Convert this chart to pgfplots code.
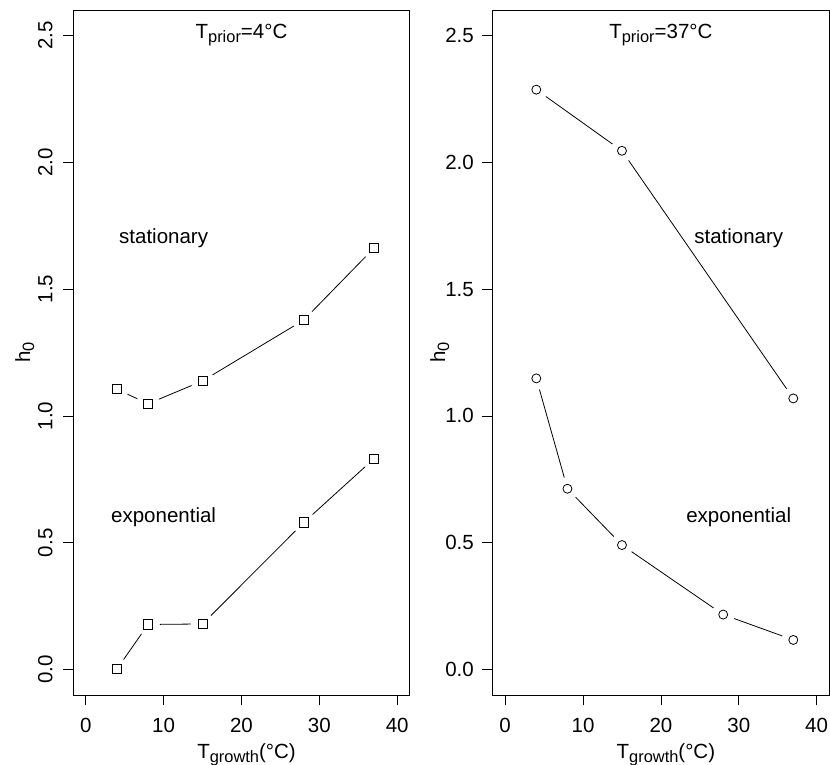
\documentclass[border=0pt]{standalone}
\usepackage{pgfplots}
\pgfplotsset{compat=1.18}
\usepackage{fontspec}
\setmainfont{Liberation Sans}
\newcommand\rf{\fontsize{20.5bp}{24bp}\selectfont}
\newcommand\sub[1]{\raisebox{-0.2em}{\fontsize{16.4bp}{18bp}\selectfont #1}}

\pgfplotstableread{
x y
4 1.105
8 1.048
15 1.138
28 1.378
37 1.661
}\leftstat
\pgfplotstableread{
x y
4 0.002
8 0.178
15 0.180
28 0.580
37 0.831
}\leftexp
\pgfplotstableread{
x y
4 2.286
15 2.045
37 1.069
}\rightstat
\pgfplotstableread{
x y
4 1.148
8 0.713
15 0.491
28 0.217
37 0.117
}\rightexp

\pgfplotsset{
  rpanel/.style={
    scale only axis, width=336.4bp, height=685bp,
    xmin=-1.6, xmax=41.6, ymin=-0.1, ymax=2.6,
    xtick={0,10,20,30,40}, xticklabels={0,10,20,30,40},
    ytick={0,0.5,1,1.5,2,2.5}, yticklabels={0.0,0.5,1.0,1.5,2.0,2.5},
    tick align=outside, xtick pos=bottom, ytick pos=left,
    major tick length=10.5bp,
    every tick/.style={black, line width=0.8bp},
    axis line style={line width=0.8bp},
    tick label style={font=\rf},
    xticklabel style={anchor=north, inner sep=0pt, yshift=-12.8bp},
    xlabel style={at={(axis description cs:0.5,0)}, anchor=base, yshift=-63.3bp, xshift=5bp, inner sep=0pt},
    clip=false,
  },
  halo/.style={only marks, mark=*, white, mark size=11.5bp, forget plot},
  ln/.style={black, line width=0.8bp, mark=none},
}

\begin{document}
\begin{tikzpicture}
\useasboundingbox (0,0) rectangle (830bp,765bp);
% left panel
\begin{axis}[rpanel, at={(73.3bp,70bp)}, anchor=south west,
  yticklabel style={xshift=-10.5bp, rotate=90, anchor=base, inner sep=0pt},
  xlabel={\rf T\sub{growth}(°C)},
  ylabel={\rf h\sub{0}},
  every axis y label/.style={at={(axis description cs:0,0.5)}, xshift=-43.3bp, rotate=90, anchor=base, inner sep=0pt},
]
\addplot[ln] table {\leftstat};
\addplot[ln] table {\leftexp};
\addplot[halo] table {\leftstat};
\addplot[halo] table {\leftexp};
\addplot[only marks, mark=square, mark size=4.6bp, black, mark options={line width=0.8bp}] table {\leftstat};
\addplot[only marks, mark=square, mark size=4.6bp, black, mark options={line width=0.8bp}] table {\leftexp};
\node at (axis cs:10,1.7) {\rf stationary};
\node at (axis cs:10,0.6) {\rf exponential};
\node at (axis cs:20,2.5) {\rf T\sub{prior}=4°C};
\end{axis}
% right panel
\begin{axis}[rpanel, at={(492.7bp,70bp)}, anchor=south west,
  yticklabel style={anchor=east, inner sep=0pt, xshift=-8.2bp},
  xlabel={\rf T\sub{growth}(°C)},
  ylabel={\rf h\sub{0}},
  every axis y label/.style={at={(axis description cs:0,0.5)}, xshift=-47.7bp, rotate=90, anchor=base, inner sep=0pt},
]
\addplot[ln] table {\rightstat};
\addplot[ln] table {\rightexp};
\addplot[halo] table {\rightstat};
\addplot[halo] table {\rightexp};
\addplot[only marks, mark=o, mark size=4.5bp, black, mark options={line width=0.8bp}] table {\rightstat};
\addplot[only marks, mark=o, mark size=4.5bp, black, mark options={line width=0.8bp}] table {\rightexp};
\node at (axis cs:30,1.7) {\rf stationary};
\node at (axis cs:30,0.6) {\rf exponential};
\node at (axis cs:20,2.5) {\rf T\sub{prior}=37°C};
\end{axis}
\end{tikzpicture}
\end{document}
